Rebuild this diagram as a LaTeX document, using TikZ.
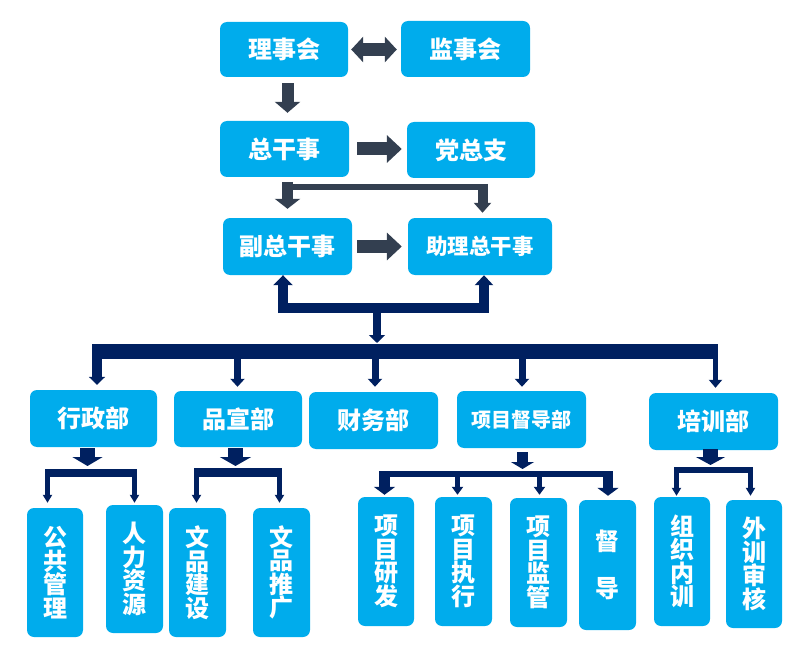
\documentclass[tikz,border=0pt]{standalone}
\usepackage{fontspec}
\newfontfamily\cjk{Noto Sans CJK SC}
\usetikzlibrary{arrows.meta}
\definecolor{boxblue}{RGB}{0,172,236}
\definecolor{slate}{RGB}{51,63,80}
\definecolor{navy}{RGB}{0,32,96}
\tikzset{
  box/.style={rectangle, rounded corners=7pt, fill=boxblue, text=white, inner sep=0pt, align=center,
    font=\cjk\bfseries\fontsize{24}{24}\selectfont},
  leaf/.style={box, minimum width=56pt, minimum height=129pt, font=\cjk\bfseries\fontsize{24}{23.5}\selectfont},
  sl/.style={draw=slate, line width=#1},
  nv/.style={draw=navy, line width=#1},
}
\begin{document}
\begin{tikzpicture}[x=1pt,y=-1pt]
\useasboundingbox (0,0) rectangle (793,658);
% top level boxes
\node[box, minimum width=128pt, minimum height=55pt] (lsh) at (284,49.5) {理事会};
\node[box, minimum width=129pt, minimum height=56pt] (jsh) at (465.5,49) {监事会};
\node[box, minimum width=129pt, minimum height=56pt] (zgs) at (284.5,149) {总干事};
\node[box, minimum width=128pt, minimum height=56pt] (dzz) at (471,150) {党总支};
\node[box, minimum width=129pt, minimum height=57pt] (fzgs) at (287.5,246.5) {副总干事};
\node[box, minimum width=144pt, minimum height=57pt, font=\cjk\bfseries\fontsize{21.5}{22}\selectfont] (zlzgs) at (480,246.5) {助理总干事};
% departments
\node[box, minimum width=127pt, minimum height=57pt] (xzb) at (93.5,418.5) {行政部};
\node[box, minimum width=128pt, minimum height=56pt] (pxb) at (238,419) {品宣部};
\node[box, minimum width=129pt, minimum height=57pt] (cwb) at (373.5,420.5) {财务部};
\node[box, minimum width=129pt, minimum height=57pt, font=\cjk\bfseries\fontsize{20}{20}\selectfont] (xmddb) at (521.5,419.5) {项目督导部};
\node[box, minimum width=129pt, minimum height=57pt] (pxb2) at (713.5,421.5) {培训部};
% leaves
\node[leaf] (ggl) at (55,572.5) {公\\共\\管\\理};
\node[leaf, minimum width=57pt, minimum height=128pt] (rlzy) at (134.5,569) {人\\力\\资\\源};
\node[leaf, minimum width=57pt] (wpjs) at (197.5,572.5) {文\\品\\建\\设};
\node[leaf, minimum width=57pt] (wptg) at (281.5,572.5) {文\\品\\推\\广};
\node[leaf] (xmyf) at (386,561.5) {项\\目\\研\\发};
\node[leaf, minimum width=57pt] (xmzx) at (463.5,561.5) {项\\目\\执\\行};
\node[leaf, minimum width=57pt] (xmjg) at (538.5,562.5) {项\\目\\监\\管};
\node[leaf, minimum width=57pt, minimum height=130pt, font=\cjk\bfseries\fontsize{24}{47}\selectfont] (dd) at (607.5,565) {督\\导};
\node[leaf] (zznx) at (682,561.5) {组\\织\\内\\训};
\node[leaf, minimum height=128pt] (wxsh) at (754,564) {外\\训\\审\\核};

% ---- slate connectors (top part)
\draw[sl=13pt, {Triangle[width=25pt,length=12pt]}-{Triangle[width=25pt,length=12pt]}]
  ([xshift=3pt]lsh.east) -- ([xshift=-4pt]jsh.west |- lsh.east);
\draw[sl=12pt, -{Triangle[width=25pt,length=11pt]}]
  ([xshift=3.5pt,yshift=-6pt]lsh.south) -- ([xshift=3pt,yshift=8pt]zgs.north);
\draw[sl=13pt, -{Triangle[width=27pt,length=15pt]}]
  ([xshift=8pt]zgs.east) -- ([xshift=-5pt]dzz.west |- zgs.east);
\coordinate (c1) at (287.5,182);
\coordinate (c2) at (282,187);
\coordinate (c3) at (487,187);
\coordinate (c4) at (482.5,184);
\draw[sl=11pt, -{Triangle[width=25pt,length=10pt]}, shorten >=9pt] (c1) -- (c1 |- fzgs.north);
\draw[sl=6pt] (c2) -- (c3);
\draw[sl=10pt, -{Triangle[width=17pt,length=10pt]}, shorten >=5pt] (c4) -- (c4 |- zlzgs.north);
\draw[sl=13pt, -{Triangle[width=27pt,length=15pt]}]
  ([xshift=5pt]fzgs.east) -- ([xshift=-6pt]zlzgs.west |- fzgs.east);

% ---- navy bus
\coordinate (u1) at (283,313);
\coordinate (u2) at (484,313);
\coordinate (h1) at (278,308);
\coordinate (h2) at (489,308);
\coordinate (d0) at (377,312);
\coordinate (busL) at (92,351.5);
\coordinate (busR) at (718,351.5);
\draw[nv=10pt, -{Triangle[width=19pt,length=10pt]}] (u1) -- (u1 |- fzgs.south);
\draw[nv=10pt, -{Triangle[width=18pt,length=10pt]}] (u2) -- (u2 |- zlzgs.south);
\draw[nv=10pt] (h1) -- (h2);
\draw[nv=8pt, -{Triangle[width=16pt,length=8pt]}, shorten >=8.5pt] (d0) -- (d0 |- busL);
\draw[nv=15pt] (busL) -- (busR);
\coordinate (t1) at (97,344);
\coordinate (t2) at (237.5,350);
\coordinate (t3) at (375,350);
\coordinate (t4) at (522,350);
\coordinate (t5) at (715.5,344);
\draw[nv=10pt, -{Triangle[width=16pt,length=8pt]}, shorten >=5pt] (t1) -- (t1 |- xzb.north);
\draw[nv=7pt, -{Triangle[width=14pt,length=8pt]}, shorten >=4pt] (t2) -- (t2 |- pxb.north);
\draw[nv=7pt, -{Triangle[width=14pt,length=8pt]}, shorten >=5pt] (t3) -- (t3 |- cwb.north);
\draw[nv=7pt, -{Triangle[width=14pt,length=8pt]}, shorten >=4pt] (t4) -- (t4 |- xmddb.north);
\draw[nv=5pt, -{Triangle[width=13pt,length=8pt]}, shorten >=5pt] (t5) -- (t5 |- pxb2.north);

% ---- 行政部 branch
\coordinate (xa) at (87.5,469);
\coordinate (xl) at (45,473);
\coordinate (xr) at (137,473);
\coordinate (xl1) at (47.5,470);
\coordinate (xr1) at (134.5,470);
\draw[nv=15pt, -{Triangle[width=30pt,length=9pt]}, shorten <=1pt, shorten >=3pt] (xa |- xzb.south) -- (xa);
\draw[nv=8pt] (xl) -- (xr);
\draw[nv=5pt, -{Triangle[width=9pt,length=8pt]}, shorten >=5pt] (xl1) -- (xl1 |- ggl.north);
\draw[nv=5pt, -{Triangle[width=9pt,length=8pt]}, shorten >=2pt] (xr1) -- (xr1 |- rlzy.north);

% ---- 品宣部 branch
\coordinate (pa) at (235.5,468);
\coordinate (pl) at (194,472.5);
\coordinate (pr) at (282,472.5);
\coordinate (pl1) at (196.5,469);
\coordinate (pr1) at (279.5,469);
\draw[nv=15pt, -{Triangle[width=31pt,length=9pt]}, shorten <=1pt, shorten >=2pt] (pa |- pxb.south) -- (pa);
\draw[nv=9pt] (pl) -- (pr);
\draw[nv=5pt, -{Triangle[width=9pt,length=8pt]}, shorten >=5pt] (pl1) -- (pl1 |- wpjs.north);
\draw[nv=5pt, -{Triangle[width=9pt,length=8pt]}, shorten >=5pt] (pr1) -- (pr1 |- wptg.north);

% ---- 项目督导部 branch
\coordinate (ma) at (522.5,471);
\coordinate (ml) at (379,473.5);
\coordinate (mr) at (613,473.5);
\coordinate (m1) at (384.5,471);
\coordinate (m2) at (457.5,471);
\coordinate (m3) at (539.5,471);
\coordinate (m4) at (608,471);
\draw[nv=11pt, -{Triangle[width=23pt,length=7pt]}, shorten <=4pt, shorten >=2pt] (ma |- xmddb.south) -- (ma);
\draw[nv=6pt] (ml) -- (mr);
\draw[nv=11pt, -{Triangle[width=21pt,length=8pt]}, shorten >=2pt] (m1) -- (m1 |- xmyf.north);
\draw[nv=5pt, -{Triangle[width=11pt,length=8pt]}, shorten >=2pt] (m2) -- (m2 |- xmzx.north);
\draw[nv=5pt, -{Triangle[width=11pt,length=8pt]}, shorten >=3pt] (m3) -- (m3 |- xmjg.north);
\draw[nv=10pt, -{Triangle[width=21pt,length=8pt]}, shorten >=4pt] (m4) -- (m4 |- dd.north);

% ---- 培训部 branch
\coordinate (qa) at (710.5,467);
\coordinate (ql) at (674,470);
\coordinate (qr) at (753,470);
\coordinate (q1) at (676.5,468);
\coordinate (q2) at (750.5,468);
\draw[nv=15pt, -{Triangle[width=29pt,length=8pt]}, shorten <=-1pt, shorten >=2pt] (qa |- pxb2.south) -- (qa);
\draw[nv=6pt] (ql) -- (qr);
\draw[nv=5pt, -{Triangle[width=9pt,length=8pt]}, shorten >=1pt] (q1) -- (q1 |- zznx.north);
\draw[nv=5pt, -{Triangle[width=9pt,length=8pt]}, shorten >=4pt] (q2) -- (q2 |- wxsh.north);
\end{tikzpicture}
\end{document}
